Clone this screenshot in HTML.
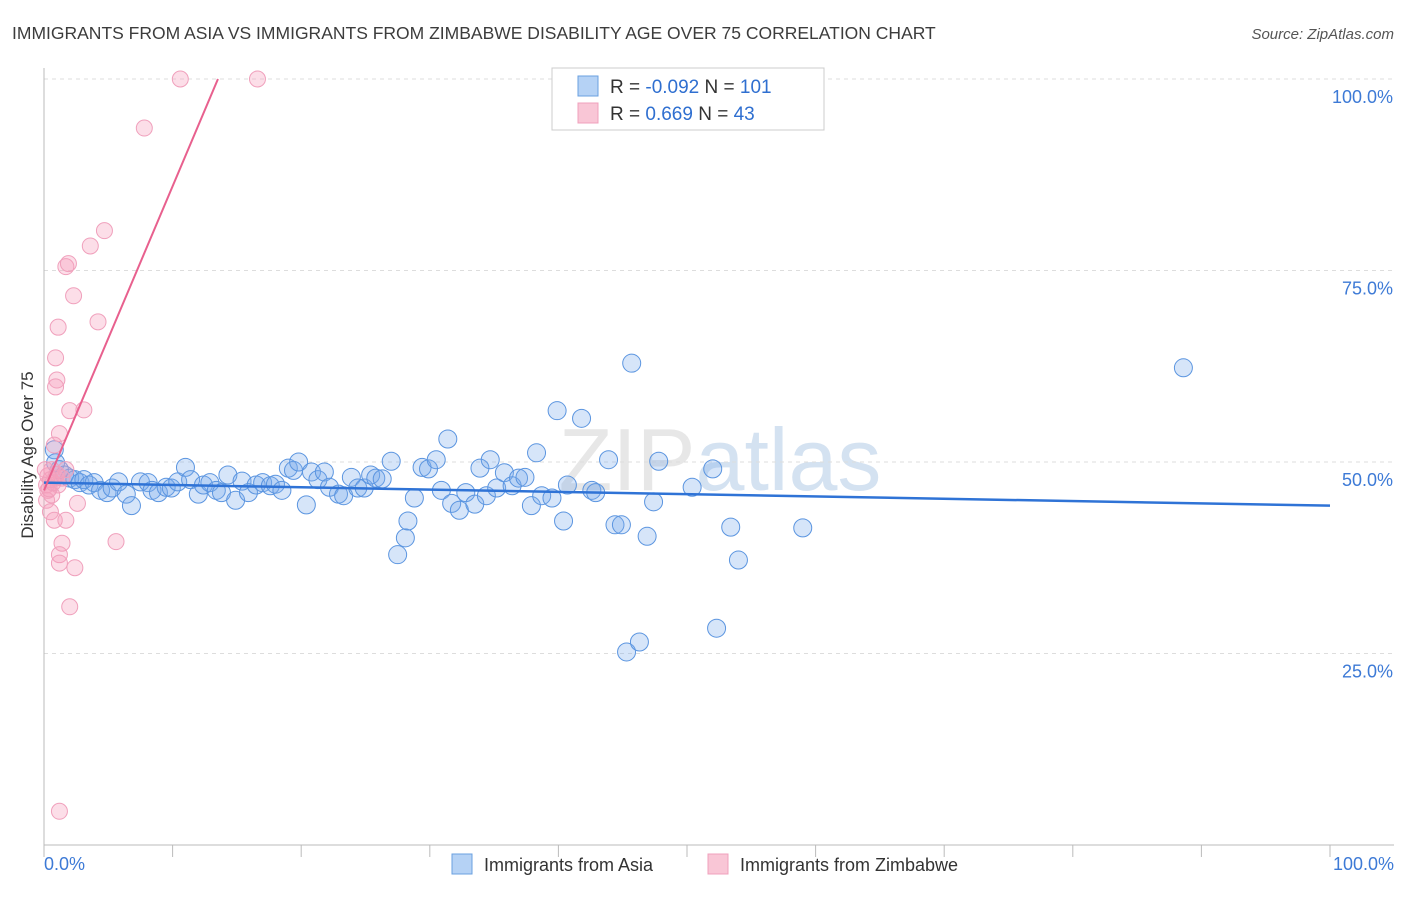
<!DOCTYPE html>
<html><head><meta charset="utf-8"><style>
body{margin:0;background:#fff;font-family:"Liberation Sans",sans-serif;}
svg text{font-family:"Liberation Sans",sans-serif;}
</style></head><body>
<svg id="chart" width="1406" height="892" xmlns="http://www.w3.org/2000/svg">
<text x="12" y="39" font-size="17.5" fill="#3c3c3c">IMMIGRANTS FROM ASIA VS IMMIGRANTS FROM ZIMBABWE DISABILITY AGE OVER 75 CORRELATION CHART</text>
<text x="1394" y="39" font-size="15" fill="#555" text-anchor="end" font-style="italic">Source: ZipAtlas.com</text>
<text x="720" y="490" font-size="88" fill="#d8d8d8" text-anchor="middle" font-family="Liberation Serif" opacity="0.6">ZIP<tspan fill="#b8cfe8" font-family="Liberation Sans">atlas</tspan></text>
<g id="grid"></g>
<g id="axes"></g>
<g id="pts"></g>
<g id="lines"></g>
<text transform="translate(33,455) rotate(-90)" font-size="17" fill="#333" text-anchor="middle">Disability Age Over 75</text>
<g>
<rect x="552" y="68" width="272" height="62" fill="#fff" stroke="#ccc"/>
<rect x="578" y="76" width="20" height="20" fill="#b5d2f5" stroke="#6aa0e0"/>
<rect x="578" y="103" width="20" height="20" fill="#f9c6d6" stroke="#f0a0bc"/>
<text x="610" y="93" font-size="19" fill="#333">R = <tspan fill="#2f6fd0">-0.092</tspan>   N = <tspan fill="#2f6fd0">101</tspan></text>
<text x="610" y="120" font-size="19" fill="#333">R =   <tspan fill="#2f6fd0">0.669</tspan>   N =  <tspan fill="#2f6fd0">43</tspan></text>
</g>
<g>
<rect x="452" y="854" width="20" height="20" fill="#b5d2f5" stroke="#6aa0e0"/>
<text x="484" y="871" font-size="18" fill="#333">Immigrants from Asia</text>
<rect x="708" y="854" width="20" height="20" fill="#f9c6d6" stroke="#f0a0bc"/>
<text x="740" y="871" font-size="18" fill="#333">Immigrants from Zimbabwe</text>
</g>
</svg>
<script>
const yTicks=[25,50,75,100];
const yTickLabels=["25.0%","50.0%","75.0%","100.0%"];
const xTickLabels=["0.0%","100.0%"];
const asiaX=[0.8,0.9,1.2,1.6,2.0,2.4,2.8,3.1,3.5,3.9,4.4,4.9,5.3,5.8,6.4,6.8,7.5,8.1,8.4,8.9,9.5,9.9,10.4,11.0,11.4,12.0,12.4,12.9,13.4,13.8,14.3,14.9,15.4,15.9,16.5,17.0,17.6,18.0,18.5,19.0,19.4,19.8,20.4,20.8,21.3,21.8,22.2,22.9,23.3,23.9,24.4,24.9,25.4,25.8,26.3,27.0,27.5,28.1,28.3,28.8,29.4,29.9,30.5,30.9,31.4,31.7,32.3,32.8,33.5,33.9,34.4,34.7,35.2,35.8,36.4,36.9,37.4,37.9,38.3,38.7,39.5,39.9,40.4,40.7,41.8,42.6,42.9,43.9,44.4,44.9,45.7,45.3,46.3,46.9,47.4,47.8,50.4,52.0,52.3,53.4,54.0,59.0,88.6];
const asiaY=[51.6,49.9,49.0,48.3,47.9,47.7,47.3,47.7,47.0,47.3,46.3,46.0,46.6,47.4,45.8,44.3,47.4,47.3,46.3,46.0,46.7,46.6,47.4,49.3,47.7,45.8,47.0,47.3,46.3,46.0,48.3,45.0,47.5,46.0,47.0,47.3,46.9,47.1,46.3,49.2,48.9,50.0,44.4,48.7,47.7,48.7,46.7,45.8,45.6,48.0,46.6,46.6,48.3,47.9,47.8,50.1,37.9,40.1,42.3,45.3,49.3,49.1,50.3,46.3,53.0,44.6,43.7,46.0,44.5,49.2,45.6,50.3,46.6,48.6,46.9,47.9,48.0,44.3,51.2,45.6,45.3,56.7,42.3,47.0,55.7,46.3,46.0,50.3,41.8,41.8,62.9,25.2,26.5,40.3,44.8,50.1,46.7,49.1,28.3,41.5,37.2,41.4,62.3];
const zimX=[10.6,16.6,7.8,4.7,3.6,1.7,1.9,2.3,4.2,1.1,0.9,1.0,0.9,2.0,3.1,1.2,0.8,0.6,0.5,0.3,0.2,0.5,0.8,1.7,2.6,1.4,1.2,1.2,2.4,5.6,2.0,1.2,0.9,1.1,0.2,0.6,1.4,1.7,0.1,0.4,0.7,1.0,0.3];
const zimY=[100,100,93.6,80.2,78.2,75.5,75.9,71.7,68.3,67.6,63.6,60.7,59.8,56.7,56.8,53.7,52.2,49.0,47.7,46.3,45.0,43.5,42.4,42.4,44.6,39.4,37.9,36.8,36.2,39.6,31.1,4.4,47.9,47.0,47.0,45.7,47.9,49.0,49.0,46.5,47.3,48.4,48.2];
const asiaTrend=[47.3,44.3];
const zimTrend=[46.3,3.97];
const X0=44,X1=1330,Y0=845,Y100=79;
const sx=v=>X0+(X1-X0)*v/100, sy=v=>Y0-(Y0-Y100)*v/100;
const NS="http://www.w3.org/2000/svg";
function mk(tag,attrs,parent){const e=document.createElementNS(NS,tag);for(const k in attrs)e.setAttribute(k,attrs[k]);document.getElementById(parent).appendChild(e);return e;}
yTicks.forEach((t,i)=>{
 const g=mk("line",{x1:X0,x2:1394,y1:sy(t),y2:sy(t),stroke:"#ddd","stroke-dasharray":"4,4"},"grid");
 
 
 const l=mk("text",{x:1393,y:sy(t)+24,"font-size":18,fill:"#3d7ad6","text-anchor":"end"},"grid");
 l.textContent=yTickLabels[i];
 
 
});
const ya=mk("line",{x1:X0,x2:X0,y1:68,y2:Y0,stroke:"#bbb"},"axes");


const xa=mk("line",{x1:X0,x2:1394,y1:Y0,y2:Y0,stroke:"#bbb"},"axes");


for(let i=0;i<=10;i++){const t=mk("line",{x1:sx(i*10),x2:sx(i*10),y1:Y0,y2:Y0+12,stroke:"#bbb"},"axes");
 
 }
[[0,"start",44],[100,"end",1394]].forEach((d,i)=>{const l=mk("text",{x:d[2],y:870,"font-size":18,fill:"#3d7ad6","text-anchor":d[1]},"axes");l.textContent=xTickLabels[i];
 
 });
asiaX.forEach((x,i)=>{const c=mk("circle",{cx:sx(x),cy:sy(asiaY[i]),r:9,fill:"rgba(120,170,235,0.3)",stroke:"#5b95e0","stroke-width":1},"pts");
 
 });
zimX.forEach((x,i)=>{const c=mk("circle",{cx:sx(x),cy:sy(zimY[i]),r:8,fill:"rgba(245,160,190,0.35)",stroke:"#f0a0bc","stroke-width":1},"pts");
 
 });
const bl=mk("line",{x1:sx(0),y1:sy(asiaTrend[0]),x2:sx(100),y2:sy(asiaTrend[1]),stroke:"#2f73d6","stroke-width":2.5},"lines");


const xe=(100-zimTrend[0])/zimTrend[1];
const pl=mk("line",{x1:sx(0),y1:sy(zimTrend[0]),x2:sx(xe),y2:sy(100),stroke:"#e8608e","stroke-width":2},"lines");


</script>
</body></html>
